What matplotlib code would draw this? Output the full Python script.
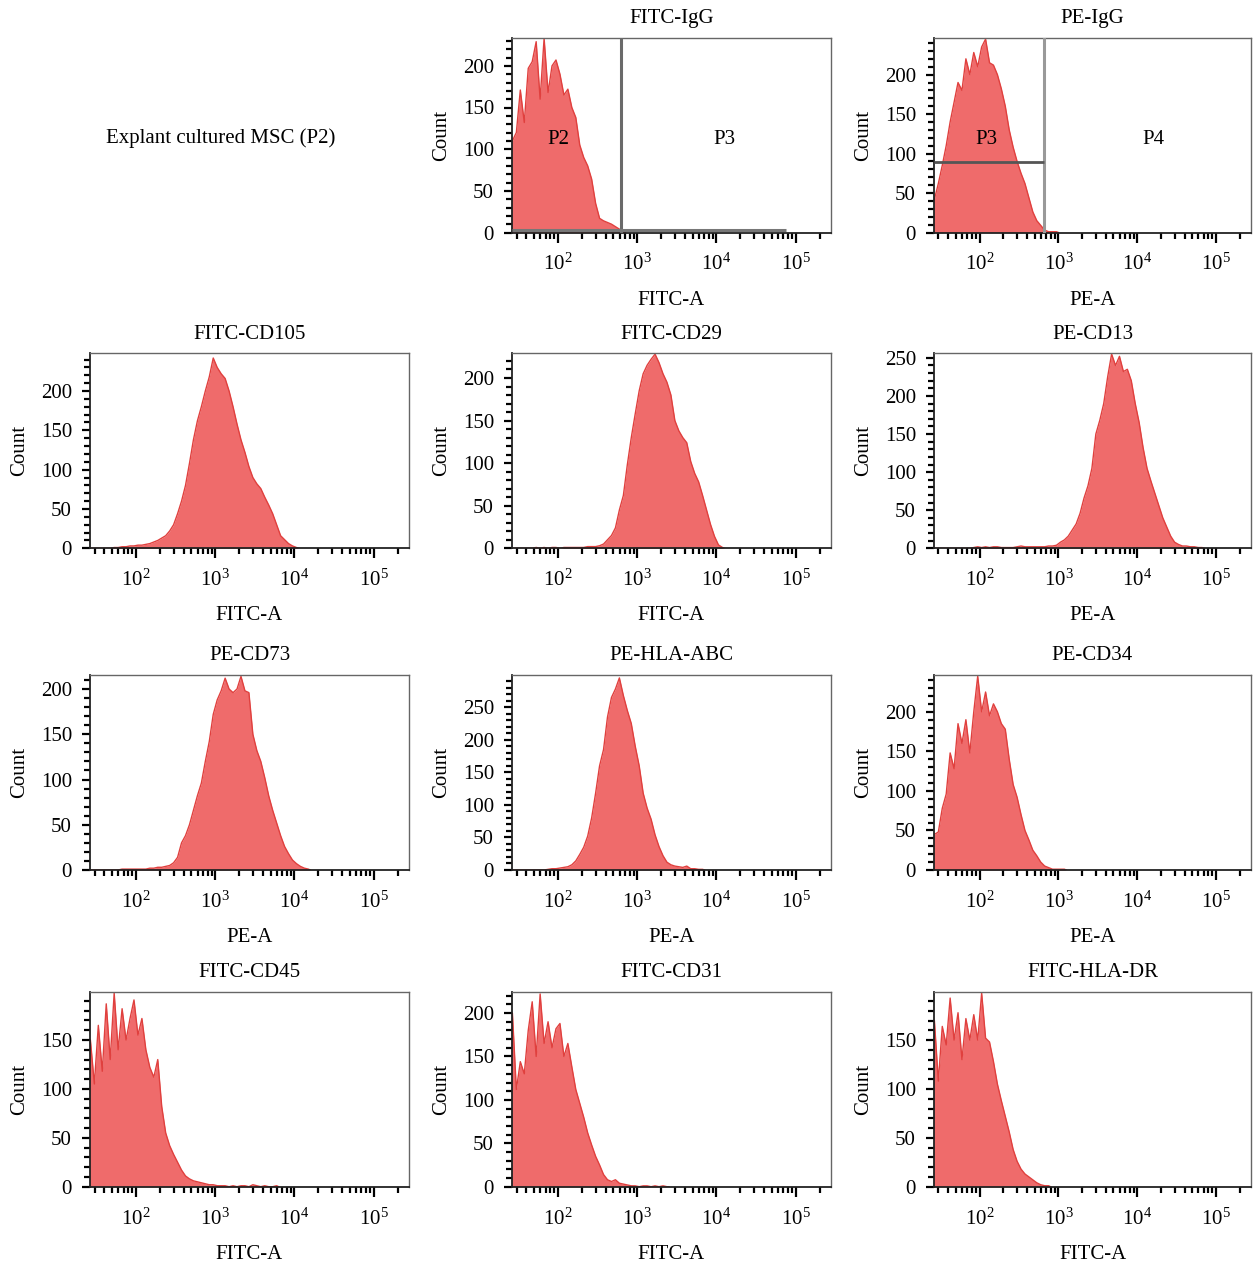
import numpy as np
import matplotlib
matplotlib.use('Agg')
import matplotlib.pyplot as plt
from matplotlib.ticker import LogLocator, MultipleLocator, NullFormatter

plt.rcParams['font.family'] = ['Liberation Serif', 'DejaVu Serif']
plt.rcParams['mathtext.fontset'] = 'custom'
plt.rcParams['mathtext.rm'] = 'Liberation Serif'
plt.rcParams['mathtext.it'] = 'Liberation Serif:italic'
plt.rcParams['mathtext.bf'] = 'Liberation Serif:bold'

# ---------------- data (log10 bins of width 0.05 starting at 10^1.40) ----------------
BIN_START = 1.40
BIN_STEP = 0.05

fitc_igg = [110, 120, 171, 132, 197, 205, 229, 160, 233, 168, 200, 207, 190, 165, 172,
            150, 138, 105, 90, 80, 64, 35, 17, 14, 12, 10, 7, 4, 1]
pe_igg = [42, 62, 85, 110, 140, 165, 190, 180, 220, 200, 228, 210, 235, 245, 215, 212,
          200, 182, 160, 130, 108, 90, 75, 62, 44, 26, 15, 9, 3, 1, 1, 1]
fitc_cd105 = [0, 0, 0, 0, 0, 0,
              1, 1, 2, 2, 3, 3, 4, 4, 5, 6,
              8, 10, 13, 16, 22, 30, 44, 60, 80, 108,
              138, 162, 180, 200, 218, 242, 230, 222, 216, 200,
              180, 158, 138, 122, 104, 90, 82, 76, 65, 55,
              44, 30, 16, 11, 6, 3, 1]
fitc_cd29 = [0, 0, 0, 0, 0, 0, 1, 0, 1, 0, 1, 1, 0, 1, 1, 1,
             1, 1, 1, 2, 2, 2, 3, 5, 10, 15,
             24, 45, 62, 98, 130, 158, 185, 205, 215, 222,
             228, 218, 205, 195, 180, 150, 138, 130, 124, 102,
             88, 78, 62, 45, 28, 14, 4, 1]
pe_cd13 = [0, 0, 0, 0, 0, 0, 0, 0, 0, 0,
           1, 2, 1, 2, 1, 2, 2, 1, 1, 1,
           1, 2, 3, 2, 2, 2, 2, 2, 2, 3,
           3, 4, 8, 11, 16, 24, 32, 46, 66, 82,
           105, 150, 168, 190, 225, 255, 240, 252, 232, 235,
           220, 190, 165, 132, 105, 88, 72, 56, 40, 28,
           16, 8, 5, 3, 3, 2, 2, 1, 1]
pe_cd73 = [0, 0, 0, 0, 0, 0, 0, 0,
           1, 1, 1, 1, 1, 1, 1, 2, 2, 3,
           3, 4, 5, 8, 14, 30, 38, 50, 66, 82,
           96, 120, 142, 172, 188, 198, 212, 200, 196, 200,
           214, 198, 196, 150, 132, 120, 102, 82, 66, 52,
           38, 26, 18, 11, 7, 4, 2, 1]
pe_hla_abc = [0, 0, 0, 0, 0, 0, 0, 0, 0,
              1, 2, 2, 3, 4, 5, 8, 14, 24, 35,
              52, 80, 118, 160, 185, 235, 265, 278, 295, 268,
              245, 225, 190, 160, 118, 95, 78, 54, 36, 22,
              12, 8, 6, 5, 4, 6, 2, 2, 1, 1]
pe_cd34 = [45, 48, 78, 96, 148, 128, 185, 160, 190, 148,
           200, 245, 200, 225, 195, 210, 200, 185, 178, 140,
           108, 92, 70, 50, 38, 25, 18, 10, 5, 3,
           1, 1, 1, 1]
fitc_cd45 = [150, 105, 165, 118, 187, 130, 198, 140, 182, 150,
             172, 191, 155, 172, 140, 122, 112, 130, 82, 55,
             42, 33, 25, 17, 11, 8, 6, 5, 4, 3,
             2, 2, 1, 1, 1, 0, 1, 0, 1, 1,
             0, 2, 1, 0, 1, 0, 0, 1]
fitc_cd31 = [200, 112, 144, 130, 180, 213, 150, 222, 165, 190,
             160, 182, 188, 150, 165, 138, 112, 96, 80, 62,
             48, 35, 25, 14, 8, 6, 8, 4, 3, 2,
             1, 1, 0, 1, 1, 0, 1, 0, 1, 0]
fitc_hla_dr = [170, 108, 164, 145, 193, 150, 178, 130, 172, 150,
               176, 150, 198, 152, 148, 128, 105, 88, 72, 56,
               38, 26, 18, 13, 10, 7, 4, 2, 1, 1]

titles = ["FITC-IgG", "PE-IgG",
          "FITC-CD105", "FITC-CD29", "PE-CD13",
          "PE-CD73", "PE-HLA-ABC", "PE-CD34",
          "FITC-CD45", "FITC-CD31", "FITC-HLA-DR"]
xlabels = ["FITC-A", "PE-A",
           "FITC-A", "FITC-A", "PE-A",
           "PE-A", "PE-A", "PE-A",
           "FITC-A", "FITC-A", "FITC-A"]
series = [fitc_igg, pe_igg, fitc_cd105, fitc_cd29, pe_cd13, pe_cd73,
          pe_hla_abc, pe_cd34, fitc_cd45, fitc_cd31, fitc_hla_dr]
ymax = [234, 247, 248, 229, 256, 215.5, 299.5, 246.5, 199.4, 224.6, 199.5]
cells = [(0, 1), (0, 2), (1, 0), (1, 1), (1, 2), (2, 0), (2, 1), (2, 2),
         (3, 0), (3, 1), (3, 2)]

# gates on isotype controls
fitc_gate_x = 630
fitc_gate_y = 3
fitc_gate_xend = 7.5e4
pe_gate_x = 665
pe_gate_y = 89
gate_labels_fitc = [("P2", 100, 111), ("P3", 1.26e4, 111)]
gate_labels_pe = [("P3", 123, 118), ("P4", 1.6e4, 118)]

XMIN, XMAX = 10 ** 1.42, 10 ** 5.445

# ---------------- layout ----------------
W, H = 1255, 1266
fig = plt.figure(figsize=(W / 100, H / 100), dpi=100)
col_left = [90, 512, 934]
col_w = [319, 319, 317]
row_top = [37.5, 353.3, 675, 991.7]
row_h = 195

FILL = '#EF6B6B'
EDGE = '#E0403E'
FS = 15

fig.text(221 / W, 1 - 138 / H, "Explant cultured MSC (P2)", ha='center', va='center',
         fontsize=FS)

axes = []
for i, (r, c) in enumerate(cells):
    l = col_left[c] / W
    b = 1 - (row_top[r] + row_h) / H
    ax = fig.add_axes([l, b, col_w[c] / W, row_h / H])
    counts = np.asarray(series[i], dtype=float)
    edges = 10 ** (BIN_START + BIN_STEP * np.arange(len(counts) + 1))
    centers = np.sqrt(edges[:-1] * edges[1:])
    xs = np.concatenate([[edges[0]], centers, [edges[-1]]])
    ys = np.concatenate([[counts[0]], counts, [0.0]])
    ax.fill_between(xs, 0, ys, color=FILL, lw=0, zorder=1)
    ax.plot(xs, ys, color=EDGE, lw=1.0, zorder=2)
    ax.set_xscale('log')
    ax.set_xlim(XMIN, XMAX)
    ax.set_ylim(0, ymax[i])
    ax.xaxis.set_major_locator(LogLocator(base=10, numticks=12))
    ax.xaxis.set_minor_locator(LogLocator(base=10, subs=np.arange(2, 10), numticks=12))
    ax.xaxis.set_minor_formatter(NullFormatter())
    ax.yaxis.set_major_locator(MultipleLocator(50))
    ax.yaxis.set_minor_locator(MultipleLocator(10))
    ax.tick_params(axis='x', which='major', direction='out', length=7, width=1.6,
                   pad=8.5, labelsize=FS, top=False)
    ax.tick_params(axis='x', which='minor', direction='out', length=4.5, width=1.6, top=False)
    ax.tick_params(axis='y', which='major', direction='out', length=6, width=1.6,
                   pad=7, labelsize=FS, right=False)
    ax.tick_params(axis='y', which='minor', direction='out', length=4, width=1.6, right=False)
    for s in ['top', 'right']:
        ax.spines[s].set_color('#666666')
        ax.spines[s].set_linewidth(1.0)
    for s in ['left', 'bottom']:
        ax.spines[s].set_color('#222222')
        ax.spines[s].set_linewidth(1.3)
    ax.set_title(titles[i], fontsize=FS, pad=10.5)
    ax.set_xlabel(xlabels[i], fontsize=FS, labelpad=11)
    ax.set_ylabel("Count", fontsize=FS, labelpad=8)
    axes.append(ax)

# FITC-IgG gates
ax = axes[0]
ax.axvline(fitc_gate_x, color='#6a6a6a', lw=2.2, zorder=3)
ax.plot([XMIN, fitc_gate_xend], [fitc_gate_y, fitc_gate_y], color='#777777', lw=2.2,
        zorder=3, solid_capstyle='butt')
for t, x, y in gate_labels_fitc:
    ax.text(x, y, t, ha='center', va='center', fontsize=FS, zorder=4)

# PE-IgG gates
ax = axes[1]
ax.axvline(pe_gate_x, color='#999999', lw=2.2, zorder=3)
ax.plot([XMIN, pe_gate_x], [pe_gate_y, pe_gate_y], color='#555555', lw=2.0, zorder=3,
        solid_capstyle='butt')
for t, x, y in gate_labels_pe:
    ax.text(x, y, t, ha='center', va='center', fontsize=FS, zorder=4)

fig.savefig('out.png', dpi=100)
